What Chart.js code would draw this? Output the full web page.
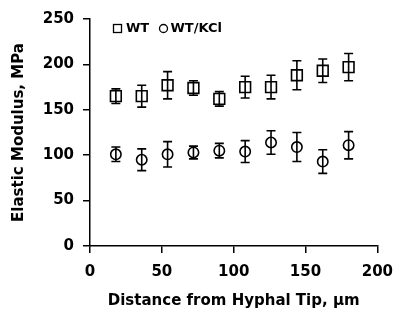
<!DOCTYPE html>
<html>
<head>
<meta charset="utf-8">
<script src="https://cdn.jsdelivr.net/npm/chart.js@4.4.1/dist/chart.umd.min.js"></script>
<style>
  html, body { margin: 0; padding: 0; background: #fff; }
  #wrap { width: 403px; height: 314px; position: relative; }
</style>
</head>
<body>
<div id="wrap"><canvas id="c" width="403" height="314"></canvas></div>
<script>
// ---- data ----
const distances = [18, 36, 54, 72, 90, 108, 126, 144, 162, 180];
const wtValues = [165, 165, 177, 174, 162, 175, 175, 188, 193, 197];
const wtErrors = [8, 12, 15, 8, 8, 12, 13, 16, 13, 15];
const kclValues = [101, 95, 101, 103, 105, 104, 114, 109, 93, 111];
const kclErrors = [8, 12, 14, 7, 8, 12, 13, 16, 13, 15];
const seriesLabels = ['WT', 'WT/KCl'];
const xTicks = [0, 50, 100, 150, 200];
const yTicks = [0, 50, 100, 150, 200, 250];

const FONT = 'DejaVu Sans';

function pts(vals) { return distances.map((d, i) => ({ x: d, y: vals[i] })); }

const errorBarPlugin = {
  id: 'errorBars',
  afterDatasetsDraw(chart) {
    const ctx = chart.ctx;
    const xs = chart.scales.x, ys = chart.scales.y;
    const errs = [wtErrors, kclErrors];
    ctx.save();
    ctx.strokeStyle = '#000';
    ctx.lineWidth = 1.6;
    chart.data.datasets.forEach((ds, di) => {
      ds.data.forEach((p, i) => {
        const e = errs[di][i];
        const px = xs.getPixelForValue(p.x);
        const top = ys.getPixelForValue(p.y + e);
        const bot = ys.getPixelForValue(p.y - e);
        const cap = 4.5;
        ctx.beginPath();
        ctx.moveTo(px, top); ctx.lineTo(px, bot);
        ctx.moveTo(px - cap, top); ctx.lineTo(px + cap, top);
        ctx.moveTo(px - cap, bot); ctx.lineTo(px + cap, bot);
        ctx.stroke();
      });
    });
    ctx.restore();
  }
};

const legendPlugin = {
  id: 'customLegend',
  afterDraw(chart) {
    const ctx = chart.ctx;
    const a = chart.chartArea;
    const cy = a.top + 9.5;
    ctx.save();
    ctx.strokeStyle = '#000';
    ctx.fillStyle = '#000';
    ctx.lineWidth = 1.3;
    // WT marker (square)
    let x = a.left + 23.5;
    ctx.strokeRect(x, cy - 4, 8, 8);
    ctx.font = 'bold 13px "' + FONT + '"';
    ctx.textBaseline = 'middle';
    ctx.textAlign = 'left';
    ctx.fillText(seriesLabels[0], x + 12.5, cy + 0.5);
    // KCl marker (circle)
    const cx = a.left + 73.5;
    ctx.beginPath();
    ctx.arc(cx, cy, 4, 0, Math.PI * 2);
    ctx.stroke();
    ctx.fillText(seriesLabels[1], cx + 7, cy + 0.5);
    ctx.restore();
  }
};

const bgPlugin = {
  id: 'bg',
  beforeDraw(chart) {
    const ctx = chart.ctx;
    ctx.save();
    ctx.fillStyle = '#fff';
    ctx.fillRect(0, 0, chart.width, chart.height);
    ctx.restore();
  }
};

new Chart(document.getElementById('c'), {
  type: 'scatter',
  data: {
    datasets: [
      {
        label: seriesLabels[0],
        data: pts(wtValues),
        pointStyle: 'rect',
        pointRadius: 7.6,
        pointHoverRadius: 7.6,
        borderColor: '#000',
        backgroundColor: 'rgba(0,0,0,0)',
        pointBorderWidth: 1.6,
        showLine: false
      },
      {
        label: seriesLabels[1],
        data: pts(kclValues),
        pointStyle: 'circle',
        pointRadius: 5.2,
        pointHoverRadius: 5.2,
        borderColor: '#000',
        backgroundColor: 'rgba(0,0,0,0)',
        pointBorderWidth: 1.6,
        showLine: false
      }
    ]
  },
  options: {
    responsive: false,
    animation: false,
    devicePixelRatio: 1,
    layout: { padding: { left: 0, right: 17, top: 19, bottom: 0 } },
    plugins: {
      legend: { display: false },
      tooltip: { enabled: false }
    },
    scales: {
      x: {
        type: 'linear',
        min: 0, max: 200,
        afterBuildTicks(s) { s.ticks = xTicks.map(v => ({ value: v })); },
        afterFit(s) { s.height = 68; },
        ticks: {
          color: '#000',
          font: { family: FONT, size: 15, weight: 'bold' },
          padding: 10,
          maxRotation: 0
        },
        grid: {
          display: true, drawOnChartArea: false, drawTicks: true,
          tickLength: 7, color: '#000', lineWidth: 1.5
        },
        border: { display: true, color: '#000', width: 1.5 },
        title: {
          display: true,
          text: 'Distance from Hyphal Tip, \u00b5m',
          color: '#000',
          font: { family: FONT, size: 15, weight: 'bold' },
          padding: { top: 0, bottom: 4 }
        }
      },
      y: {
        type: 'linear',
        min: 0, max: 250,
        afterBuildTicks(s) { s.ticks = yTicks.map(v => ({ value: v })); },
        afterFit(s) { s.width = 90; },
        ticks: {
          color: '#000',
          font: { family: FONT, size: 15, weight: 'bold' },
          padding: 9
        },
        grid: {
          display: true, drawOnChartArea: false, drawTicks: true,
          tickLength: 7, color: '#000', lineWidth: 1.5
        },
        border: { display: true, color: '#000', width: 1.5 },
        title: {
          display: true,
          text: 'Elastic Modulus, MPa',
          color: '#000',
          font: { family: FONT, size: 15, weight: 'bold' },
          padding: { top: 10, bottom: 0 }
        }
      }
    }
  },
  plugins: [bgPlugin, errorBarPlugin, legendPlugin]
});
</script>
</body>
</html>
